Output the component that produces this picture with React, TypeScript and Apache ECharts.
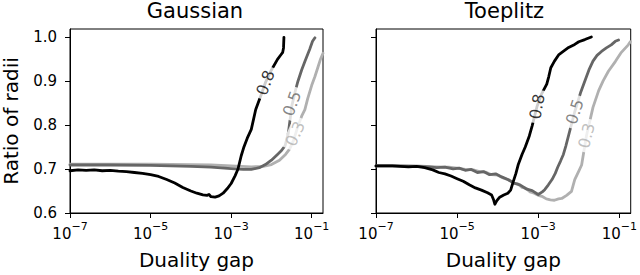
import React, { useEffect, useRef } from "react";
import * as echarts from "echarts";

const FONT = "DejaVu Sans";

const panelTitles = ["Gaussian", "Toeplitz"];
const xTickExps = [-7, -5, -3, -1];
const yTicks = [0.6, 0.7, 0.8, 0.9, 1.0];
const curveNames = ["0.8", "0.5", "0.3"];
const curveColors = ["#000000", "#666666", "#b0b0b0"];

// ---- Gaussian panel (x given as log10 of duality gap) ----
const gauss08LogGap = [-7, -6.8, -6.6, -6.4, -6.2, -6.0, -5.8, -5.6, -5.4, -5.2, -5.0, -4.8, -4.6, -4.4, -4.2, -4.0, -3.85, -3.7, -3.6, -3.55, -3.5, -3.4, -3.3, -3.2, -3.1, -3.0, -2.9, -2.83, -2.75, -2.69, -2.6, -2.5, -2.39, -2.25, -2.15, -2.0, -1.85, -1.76, -1.72, -1.7, -1.69];
const gauss08Ratio = [0.696, 0.698, 0.697, 0.698, 0.696, 0.697, 0.695, 0.694, 0.692, 0.69, 0.687, 0.683, 0.676, 0.668, 0.658, 0.65, 0.645, 0.641, 0.64, 0.642, 0.637, 0.636, 0.639, 0.645, 0.655, 0.667, 0.685, 0.7, 0.73, 0.748, 0.77, 0.79, 0.835, 0.87, 0.896, 0.925, 0.949, 0.96, 0.965, 0.975, 0.999];

const gauss05LogGap = [-7, -6, -5, -4, -3.5, -3.0, -2.7, -2.5, -2.3, -2.15, -2.0, -1.85, -1.75, -1.66, -1.58, -1.49, -1.4, -1.34, -1.25, -1.17, -1.05, -0.98, -0.92];
const gauss05Ratio = [0.709, 0.709, 0.708, 0.706, 0.704, 0.701, 0.699, 0.699, 0.703, 0.71, 0.72, 0.733, 0.742, 0.753, 0.782, 0.845, 0.88, 0.9, 0.925, 0.944, 0.972, 0.99, 0.998];

const gauss03LogGap = [-7, -6, -5, -4, -3.5, -3.0, -2.5, -2.2, -2.0, -1.8, -1.65, -1.55, -1.45, -1.35, -1.25, -1.17, -1.1, -1.0, -0.92, -0.85, -0.78, -0.72];
const gauss03Ratio = [0.711, 0.711, 0.711, 0.710, 0.709, 0.707, 0.705, 0.706, 0.71, 0.72, 0.733, 0.745, 0.765, 0.795, 0.82, 0.835, 0.86, 0.89, 0.91, 0.93, 0.95, 0.963];

// ---- Toeplitz panel ----
const toep08LogGap = [-7, -6.6, -6.2, -6.0, -5.8, -5.6, -5.45, -5.3, -5.15, -5.0, -4.85, -4.7, -4.55, -4.4, -4.25, -4.15, -4.1, -4.07, -4.02, -3.95, -3.85, -3.75, -3.68, -3.62, -3.55, -3.49, -3.4, -3.32, -3.22, -3.15, -3.03, -2.92, -2.79, -2.74, -2.69, -2.6, -2.49, -2.4, -2.25, -2.1, -2.0, -1.85, -1.69];
const toep08Ratio = [0.707, 0.707, 0.705, 0.706, 0.703, 0.698, 0.692, 0.689, 0.684, 0.678, 0.672, 0.664, 0.657, 0.652, 0.646, 0.641, 0.63, 0.62, 0.628, 0.636, 0.641, 0.645, 0.652, 0.67, 0.69, 0.711, 0.733, 0.75, 0.775, 0.798, 0.842, 0.87, 0.893, 0.91, 0.93, 0.945, 0.96, 0.966, 0.976, 0.983, 0.989, 0.994, 1.0];

const toep05LogGap = [-7, -6.5, -6, -5.7, -5.5, -5.3, -5.1, -4.95, -4.8, -4.65, -4.5, -4.35, -4.2, -4.05, -3.9, -3.75, -3.6, -3.45, -3.3, -3.15, -3.0, -2.9, -2.84, -2.75, -2.66, -2.58, -2.52, -2.45, -2.38, -2.32, -2.1, -1.95, -1.83, -1.75, -1.65, -1.55, -1.44, -1.32, -1.2, -1.1, -1.02];
const toep05Ratio = [0.707, 0.707, 0.706, 0.705, 0.703, 0.704, 0.7, 0.702, 0.697, 0.699, 0.692, 0.694, 0.687, 0.689, 0.682, 0.676, 0.668, 0.664, 0.655, 0.651, 0.642, 0.648, 0.653, 0.664, 0.676, 0.69, 0.704, 0.718, 0.733, 0.752, 0.83, 0.875, 0.905, 0.925, 0.945, 0.958, 0.967, 0.975, 0.982, 0.99, 0.993];

const toep03LogGap = [-7, -6.5, -6, -5.5, -5.2, -5.0, -4.8, -4.6, -4.45, -4.3, -4.15, -4.0, -3.85, -3.74, -3.6, -3.5, -3.4, -3.3, -3.2, -3.1, -3.0, -2.91, -2.8, -2.7, -2.6, -2.5, -2.42, -2.3, -2.18, -2.1, -2.0, -1.93, -1.81, -1.65, -1.51, -1.4, -1.27, -1.1, -0.95, -0.78, -0.73];
const toep03Ratio = [0.707, 0.707, 0.707, 0.705, 0.704, 0.702, 0.699, 0.698, 0.694, 0.693, 0.687, 0.686, 0.679, 0.676, 0.668, 0.666, 0.658, 0.656, 0.648, 0.645, 0.64, 0.638, 0.632, 0.63, 0.629, 0.632, 0.633, 0.64, 0.649, 0.676, 0.695, 0.709, 0.776, 0.84, 0.878, 0.9, 0.922, 0.944, 0.965, 0.982, 0.989];

// inline label anchors (log10 gap, ratio) and text angle
const gaussLabelLogGap = [-2.15, -1.49, -1.41];
const gaussLabelRatio = [0.896, 0.849, 0.78];
const gaussLabelAngle = [70, 70, 66];
const toepLabelLogGap = [-3.03, -2.1, -1.81];
const toepLabelRatio = [0.842, 0.83, 0.776];
const toepLabelAngle = [80, 72, 76];

const toData = (lx: number[], ys: number[]) => lx.map((e, i) => [Math.pow(10, e), ys[i]]);

export default function App() {
  const ref = useRef<HTMLDivElement>(null);
  useEffect(() => {
    if (!ref.current) return;
    const chart = echarts.init(ref.current, undefined, { renderer: "svg" });

    const grids = [
      { left: 67, top: 29, width: 256, height: 188 },
      { left: 376, top: 29, width: 257, height: 188 },
    ];
    const panels = [
      {
        curves: [
          toData(gauss08LogGap, gauss08Ratio),
          toData(gauss05LogGap, gauss05Ratio),
          toData(gauss03LogGap, gauss03Ratio),
        ],
        lx: gaussLabelLogGap, ly: gaussLabelRatio, la: gaussLabelAngle,
      },
      {
        curves: [
          toData(toep08LogGap, toep08Ratio),
          toData(toep05LogGap, toep05Ratio),
          toData(toep03LogGap, toep03Ratio),
        ],
        lx: toepLabelLogGap, ly: toepLabelRatio, la: toepLabelAngle,
      },
    ];

    const xTickValues = xTickExps.map((e) => Math.pow(10, e));

    const series: any[] = [];
    panels.forEach((p, pi) => {
      [2, 1, 0].forEach((ci) => {
        series.push({
          type: "line",
          xAxisIndex: pi,
          yAxisIndex: pi,
          data: p.curves[ci],
          showSymbol: false,
          symbol: "none",
          smooth: false,
          lineStyle: { color: curveColors[ci], width: 2.8, join: "round", cap: "round" },
          z: 3 + (2 - ci),
        });
      });
      [2, 1, 0].forEach((ci) => {
        series.push({
          type: "scatter",
          xAxisIndex: pi,
          yAxisIndex: pi,
          data: [[Math.pow(10, p.lx[ci]), p.ly[ci]]],
          symbolSize: 1,
          itemStyle: { color: "rgba(0,0,0,0)" },
          z: 10,
          label: {
            show: true,
            position: "inside",
            formatter: curveNames[ci],
            rotate: p.la[ci],
            fontSize: 16,
            fontFamily: FONT,
            color: curveColors[ci],
            backgroundColor: "#ffffff",
            padding: [0, 4],
          },
        });
      });
    });

    const option: any = {
      animation: false,
      textStyle: { fontFamily: FONT },
      title: panelTitles.map((t, i) => ({
        text: t,
        left: grids[i].left + grids[i].width / 2,
        top: 0,
        textAlign: "center",
        padding: 0,
        textStyle: { fontSize: 21, fontWeight: "normal", color: "#000", fontFamily: FONT },
      })),
      grid: grids.map((g) => ({
        ...g,
        show: true,
        borderColor: "#000",
        borderWidth: 1,
        backgroundColor: "transparent",
        containLabel: false,
      })),
      xAxis: grids.map((_, i) => ({
        type: "log",
        logBase: 10,
        gridIndex: i,
        min: 1e-7,
        max: Math.pow(10, -0.72),
        axisLine: { show: true, lineStyle: { color: "#000", width: 1 } },
        axisTick: { show: true, length: 5, inside: false, customValues: xTickValues, lineStyle: { color: "#000", width: 1 } },
        minorTick: { show: false },
        splitLine: { show: false },
        axisLabel: {
          customValues: xTickValues,
          margin: 8,
          color: "#000",
          formatter: (v: number) => {
            const e = Math.round(Math.log10(v));
            return `{b|10}{s|${e < 0 ? "\u2212" : ""}${Math.abs(e)}}`;
          },
          rich: {
            b: { fontSize: 15, lineHeight: 20, verticalAlign: "bottom", fontFamily: FONT, color: "#000" },
            s: { fontSize: 11, lineHeight: 13, verticalAlign: "top", fontFamily: FONT, color: "#000" },
          },
        },
        name: "Duality gap",
        nameLocation: "middle",
        nameGap: 37,
        nameTextStyle: { fontSize: 20, color: "#000", fontFamily: FONT },
      })),
      yAxis: grids.map((_, i) => ({
        type: "value",
        gridIndex: i,
        min: 0.6,
        max: 1.018,
        axisLine: { show: true, lineStyle: { color: "#000", width: 1 } },
        axisTick: { show: true, length: 5, customValues: yTicks, lineStyle: { color: "#000", width: 1 } },
        splitLine: { show: false },
        axisLabel: {
          show: i === 0,
          customValues: yTicks,
          margin: 13,
          fontSize: 15,
          color: "#000",
          fontFamily: FONT,
          formatter: (v: number) => v.toFixed(1),
        },
        name: i === 0 ? "Ratio of radii" : "",
        nameLocation: "middle",
        nameGap: 49,
        nameRotate: 90,
        nameTextStyle: { fontSize: 20, color: "#000", fontFamily: FONT },
      })),
      series,
    };
    chart.setOption(option);
    return () => chart.dispose();
  }, []);

  return (
    <div
      ref={ref}
      style={{ position: "absolute", left: 0, top: 0, width: 640, height: 275, background: "#fff" }}
    />
  );
}
